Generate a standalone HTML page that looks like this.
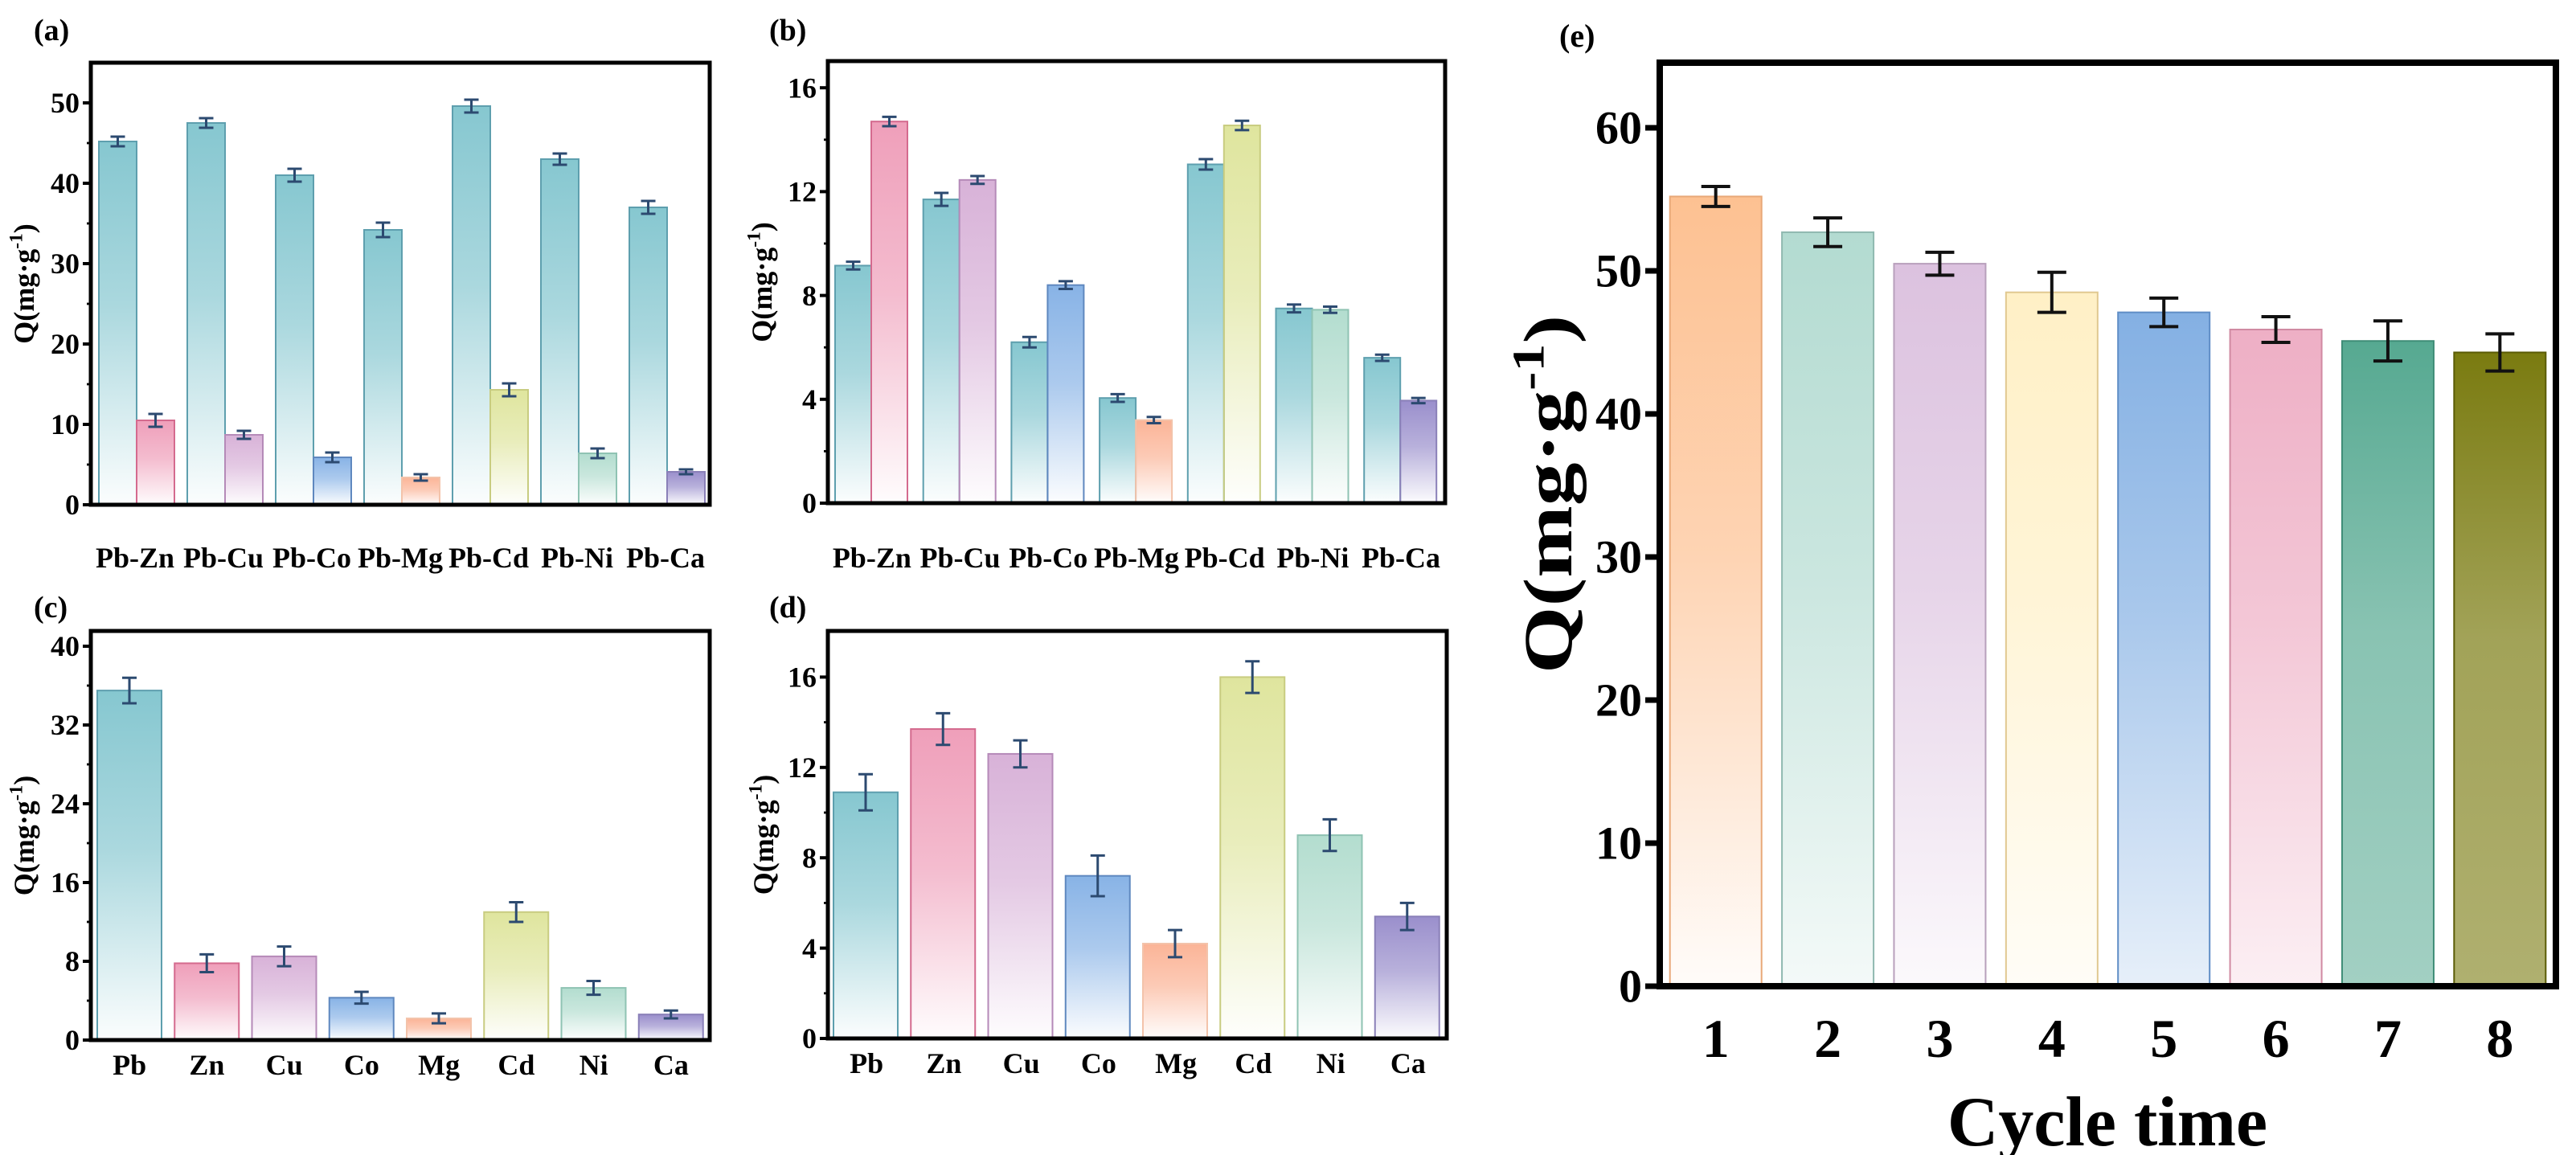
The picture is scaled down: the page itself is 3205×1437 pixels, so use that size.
<!DOCTYPE html>
<html><head><meta charset="utf-8"><style>
html,body{margin:0;padding:0;background:#fff;}
svg{display:block;font-family:"Liberation Serif",serif;font-weight:bold;}
</style></head><body>
<svg id="fig" width="3205" height="1437" viewBox="0 0 3205 1437" xmlns="http://www.w3.org/2000/svg">
<defs id="defs"></defs>
<g id="root"></g>
</svg>
<script>
// ---- data ----
const pairCats = ["Pb-Zn","Pb-Cu","Pb-Co","Pb-Mg","Pb-Cd","Pb-Ni","Pb-Ca"];
const aPb = [45.2,47.5,41.0,34.2,49.6,43.0,37.0];
const aPbErr = [0.6,0.6,0.8,0.9,0.8,0.7,0.8];
const aOther = [10.5,8.7,5.9,3.4,14.3,6.4,4.1];
const aOtherErr = [0.8,0.5,0.6,0.4,0.8,0.6,0.3];
const bPb = [9.15,11.7,6.2,4.05,13.05,7.5,5.6];
const bPbErr = [0.15,0.25,0.2,0.15,0.2,0.15,0.12];
const bOther = [14.7,12.45,8.4,3.2,14.55,7.45,3.95];
const bOtherErr = [0.18,0.15,0.15,0.12,0.18,0.12,0.1];
const metalCats = ["Pb","Zn","Cu","Co","Mg","Cd","Ni","Ca"];
const cVals = [35.5,7.8,8.5,4.3,2.2,13.0,5.3,2.6];
const cErr = [1.3,0.9,1.0,0.6,0.5,1.0,0.7,0.4];
const dVals = [10.9,13.7,12.6,7.2,4.2,16.0,9.0,5.4];
const dErr = [0.8,0.7,0.6,0.9,0.6,0.7,0.7,0.6];
const cycleCats = ["1","2","3","4","5","6","7","8"];
const eVals = [55.2,52.7,50.5,48.5,47.1,45.9,45.1,44.3];
const eErr = [0.7,1.0,0.8,1.4,1.0,0.9,1.4,1.3];
const aTicks = [0,10,20,30,40,50];
const bTicks = [0,4,8,12,16];
const cTicks = [0,8,16,24,32,40];
const dTicks = [0,4,8,12,16];
const eTicks = [0,10,20,30,40,50,60];

// ---- styles ----
const metalColors = {Pb:"#86c7d0",Zn:"#ef9fba",Cu:"#d8b2d8",Co:"#88b3e6",Mg:"#fbb497",Cd:"#dfe59e",Ni:"#b3ddcf",Ca:"#9a8fcc"};
const metalStroke = {Pb:"#5e9fae",Zn:"#d46a8e",Cu:"#b58ab8",Co:"#5f88bf",Mg:"#f3c3aa",Cd:"#c8cc80",Ni:"#8fc3b3",Ca:"#8a80b8"};
const eColors = ["#fdc192","#b3dbd1","#dcc2df","#fff0c6","#84b0e3","#eeafc5","#56a991","#7a7b10"];
const eStroke = ["#e8a878","#90b9b0","#b8a0bc","#e0c890","#5f8dc6","#d08aa2","#3f8d77","#5a5b05"];
const eBottomOp = [0.05,0.15,0.1,0.15,0.2,0.2,0.55,0.6];

const NS = "http://www.w3.org/2000/svg";
const root = document.getElementById('root');
const defs = document.getElementById('defs');
function mk(tag, attrs, parent){
  const el = document.createElementNS(NS, tag);
  for (const k in attrs) el.setAttribute(k, attrs[k]);
  (parent||root).appendChild(el);
  return el;
}
let gid = 0;
function grad(color, bottomOp){
  const id = 'g'+(gid++);
  const g = mk('linearGradient',{id:id,x1:0,y1:0,x2:0,y2:1},defs);
  mk('stop',{offset:'0','stop-color':color,'stop-opacity':1},g);
  mk('stop',{offset:'0.45','stop-color':color,'stop-opacity':0.7},g);
  mk('stop',{offset:'1','stop-color':color,'stop-opacity':bottomOp},g);
  return 'url(#'+id+')';
}

function panel(p){
  const g = mk('g',{});
  
  
  const ys = v => p.y0 - (v - 0) * p.scale;
  p.bars.forEach(b => {
    const y = ys(b.v);
    const r = mk('rect',{x:b.x,y:y,width:b.w,height:p.y0-y,fill:grad(b.color,b.bop),stroke:b.stroke,'stroke-width':2},g);
    
    
    const cx = b.x + b.w/2, hw = p.capW/2;
    const eg = mk('g',{stroke:p.errColor,'stroke-width':p.errW,fill:'none'},g);
    
    
    mk('line',{x1:cx,x2:cx,y1:ys(b.v+b.e),y2:ys(b.v-b.e)},eg);
    mk('line',{x1:cx-hw,x2:cx+hw,y1:ys(b.v+b.e),y2:ys(b.v+b.e)},eg);
    mk('line',{x1:cx-hw,x2:cx+hw,y1:ys(b.v-b.e),y2:ys(b.v-b.e)},eg);
  });
  const fr = mk('rect',{x:p.x0,y:p.top,width:p.x1-p.x0,height:p.y0-p.top,fill:'none',stroke:'#000','stroke-width':p.frameW},g);
  
  
  p.ticks.forEach((t,i) => {
    const y = ys(t);
    mk('line',{x1:p.x0-p.tickLen,x2:p.x0,y1:y,y2:y,stroke:'#000','stroke-width':p.tickW},g);
    const tx = mk('text',{x:p.x0-p.tickLen-4,y:y+p.tickFont*0.34,'text-anchor':'end','font-size':p.tickFont},g);
    tx.textContent = t;
    
    
    if (i < p.ticks.length-1 && p.minor) {
      const ym = ys((t + p.ticks[i+1])/2);
      mk('line',{x1:p.x0-p.tickLen/2,x2:p.x0,y1:ym,y2:ym,stroke:'#000','stroke-width':p.tickW*0.7},g);
    }
  });
  p.xlabels.forEach(l => {
    const tx = mk('text',{x:l.x,y:p.xlabY,'text-anchor':'middle','font-size':p.xFont},g);
    tx.textContent = l.t;
    
    
  });
  const yc = p.ytY !== undefined ? p.ytY : (p.top+p.y0)/2;
  const sx = p.ytStretch || 1;
  const yt = mk('text',{x:0,y:0,'text-anchor':'middle','font-size':p.ytFont,transform:'translate('+p.ytX+','+yc+') rotate(-90) scale('+sx+',1)'},g);
  yt.innerHTML = 'Q(mg·g<tspan dy="-'+(p.ytFont*0.4)+'" font-size="'+(p.ytFont*0.65)+'">-1</tspan><tspan dy="'+(p.ytFont*0.4)+'">)</tspan>';
  
  
  const pl = mk('text',{x:p.lx,y:p.ly,'font-size':p.lFont},g);
  pl.textContent = p.letter;
  
  
}

function pairBars(x0,slot,off,w,pb,pbe,oth,othe){
  const bars=[];
  pairCats.forEach((c,i)=>{
    const m = c.split('-')[1];
    bars.push({x:x0+i*slot+off,w:w,v:pb[i],e:pbe[i],color:metalColors.Pb,stroke:metalStroke.Pb,bop:0.03,label:'bar-'+c+'-Pb'});
    bars.push({x:x0+i*slot+off+w,w:w,v:oth[i],e:othe[i],color:metalColors[m],stroke:metalStroke[m],bop:0.03,label:'bar-'+c+'-'+m});
  });
  return bars;
}
function singleBars(x0,slot,off,w,vals,errs){
  return metalCats.map((c,i)=>({x:x0+i*slot+off,w:w,v:vals[i],e:errs[i],color:metalColors[c],stroke:metalStroke[c],bop:0.03,label:'bar-'+c}));
}
const small = {frameW:5,tickLen:10,tickW:4,tickFont:36,xFont:36,ytFont:36,lFont:38,capW:18,errColor:'#2c4a70',errW:3,minor:true};

panel(Object.assign({},small,{name:'panel-a',letter:'(a)',lx:42,ly:50,x0:113,x1:883,top:78,y0:628,scale:10,ticks:aTicks,
  bars:pairBars(113,110,10,47,aPb,aPbErr,aOther,aOtherErr),
  xlabels:pairCats.map((c,i)=>({t:c,x:113+(i+0.5)*110})),xlabY:706,ytX:42}));
panel(Object.assign({},small,{name:'panel-b',letter:'(b)',lx:957,ly:50,x0:1030,x1:1798,top:76,y0:626,scale:32.3,ticks:bTicks,
  bars:pairBars(1030,109.7,9,45,bPb,bPbErr,bOther,bOtherErr),
  xlabels:pairCats.map((c,i)=>({t:c,x:1030+(i+0.5)*109.7})),xlabY:706,ytX:960}));
panel(Object.assign({},small,{name:'panel-c',letter:'(c)',lx:42,ly:768,x0:113,x1:883,top:785,y0:1294,scale:12.25,ticks:cTicks,
  bars:singleBars(113,96.25,8,80,cVals,cErr),
  xlabels:metalCats.map((c,i)=>({t:c,x:113+(i+0.5)*96.25})),xlabY:1337,ytX:42}));
panel(Object.assign({},small,{name:'panel-d',letter:'(d)',lx:957,ly:768,x0:1030,x1:1800,top:785,y0:1292,scale:28.1,ticks:dTicks,
  bars:singleBars(1030,96.25,7,80,dVals,dErr),
  xlabels:metalCats.map((c,i)=>({t:c,x:1030+(i+0.5)*96.25})),xlabY:1335,ytX:962}));
const eSlot = (3180-2065)/8;
panel({name:'panel-e',letter:'(e)',lx:1940,ly:58,x0:2065,x1:3180,top:78,y0:1227,scale:17.8,ticks:eTicks,
  frameW:8,tickLen:18,tickW:7,tickFont:58,xFont:68,ytFont:86,ytStretch:1.25,lFont:40,capW:36,errColor:'#111',errW:4,minor:false,
  bars:cycleCats.map((c,i)=>({x:2065+i*eSlot+12.7,w:114,v:eVals[i],e:eErr[i],color:eColors[i],stroke:eStroke[i],bop:eBottomOp[i],label:'bar-cycle-'+c})),
  xlabels:cycleCats.map((c,i)=>({t:c,x:2065+(i+0.5)*eSlot})),xlabY:1315,ytX:1955,ytY:615});
const xt = mk('text',{x:2622,y:1425,'text-anchor':'middle','font-size':88});
xt.textContent = 'Cycle time';


</script>
</body></html>
